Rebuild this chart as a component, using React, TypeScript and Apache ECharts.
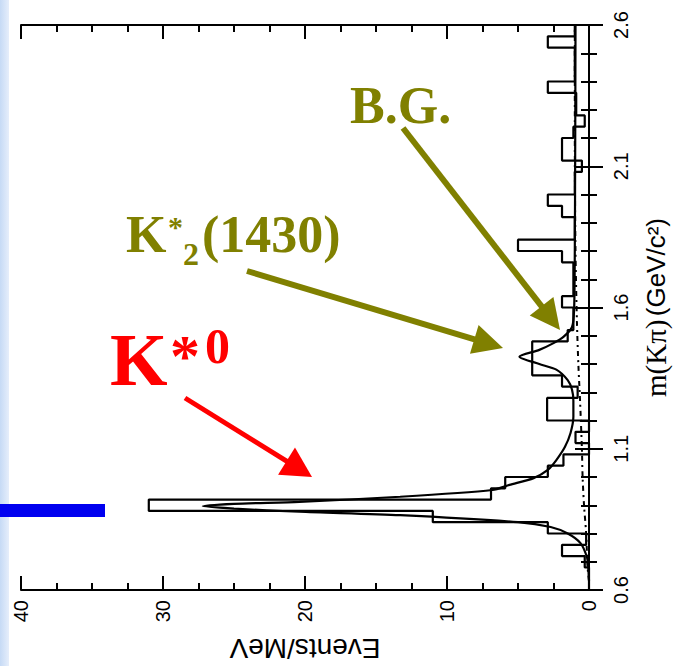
import React, { useEffect, useRef } from "react";
import * as echarts from "echarts";

// m(K pi) histogram, 0.04 GeV bins starting at 0.6 GeV
const MASS_MIN = 0.6;
const BIN_WIDTH = 0.04;
const binValues = [
  0, 0, 0.3, 1.9, 0.2, 2.9, 11.0, 31.0, 6.9, 5.9,
  2.9, 1.8, 0, 0.95, 0, 2.95, 2.95, 0.8, 1.9, 4.0,
  4.0, 4.0, 1.5, 1.1, 1.1, 1.9, 1.1, 1.1, 1.1, 1.9,
  5.0, 1.0, 1.0, 1.9, 2.9, 1.0, 1.0, 0.5, 1.9, 1.9,
  1.1, 0.3, 0.9, 0.9, 2.9, 1.0, 1.0, 1.0, 2.9, 1.0,
];

// total fit (solid)
const fitMass = [
  0.633, 0.68, 0.717, 0.766, 0.8, 0.823, 0.84, 0.865, 0.877, 0.888,
  0.897, 0.905, 0.912, 0.93, 0.954, 0.972, 0.996, 1.025, 1.06, 1.106,
  1.156, 1.213, 1.27, 1.31, 1.343, 1.38, 1.4, 1.426, 1.45, 1.474,
  1.496, 1.53, 1.59, 1.8, 2.2, 2.6,
];
const fitValue = [
  0, 0.05, 0.15, 0.6, 1.5, 2.7, 5.0, 13.3, 20.4, 25.0,
  27.2, 25.0, 20.4, 13.3, 6.8, 5.6, 3.9, 2.9, 2.3, 1.7,
  1.3, 1.1, 1.1, 1.2, 1.5, 2.3, 3.5, 4.9, 3.5, 2.5,
  1.8, 1.2, 1.05, 1.0, 0.97, 0.95,
];

// background (dash-dot)
const bgMass = [0.633, 0.68, 0.8, 0.9, 1.0, 1.1, 1.27, 1.4, 1.55, 1.8, 2.2, 2.6];
const bgValue = [0, 0.1, 0.2, 0.35, 0.45, 0.5, 0.63, 0.75, 0.85, 0.95, 1.0, 1.0];

const OLIVE = "#808000";
const RED = "#ff0000";
const SERIF = "'Liberation Serif', 'Times New Roman', serif";
const SANS = "'Liberation Sans', Arial, sans-serif";

const arrow = (x1, y1, x2, y2, color, width, headLen, headHalf) => {
  const dx = x2 - x1;
  const dy = y2 - y1;
  const len = Math.sqrt(dx * dx + dy * dy);
  const ux = dx / len;
  const uy = dy / len;
  const bx = x2 - ux * headLen;
  const by = y2 - uy * headLen;
  return [
    {
      type: "line",
      shape: { x1, y1, x2: bx + ux * 2, y2: by + uy * 2 },
      style: { stroke: color, lineWidth: width },
      z: 100,
    },
    {
      type: "polygon",
      shape: {
        points: [
          [x2, y2],
          [bx - uy * headHalf, by + ux * headHalf],
          [bx + uy * headHalf, by - ux * headHalf],
        ],
      },
      style: { fill: color },
      z: 100,
    },
  ];
};

const label = (text, x, y, size, color) => ({
  type: "text",
  x,
  y,
  z: 100,
  style: {
    text,
    fill: color,
    font: `bold ${size}px ${SERIF}`,
    align: "left",
    verticalAlign: "middle",
  },
});

const App = () => {
  const chartRef = useRef(null);

  useEffect(() => {
    if (!chartRef.current) return;
    const chart = echarts.init(chartRef.current, null, { renderer: "svg" });

    const histData = [];
    binValues.forEach((v, i) => {
      const lo = MASS_MIN + i * BIN_WIDTH;
      histData.push([v, lo], [v, lo + BIN_WIDTH]);
    });
    const fitData = fitMass.map((m, i) => [fitValue[i], m]);
    const bgData = bgMass.map((m, i) => [bgValue[i], m]);

    const axisLine = { show: true, lineStyle: { color: "#000", width: 2 } };
    const tick = { show: true, inside: true, length: 14, lineStyle: { color: "#000", width: 2 } };
    const minorLine = { color: "#000", width: 2 };

    const option = {
      animation: false,
      backgroundColor: "#fff",
      grid: { left: 21, right: 86, top: 25, bottom: 76, outerBoundsMode: "none", containLabel: false },
      xAxis: [
        {
          type: "value",
          inverse: true,
          min: 0,
          max: 40,
          interval: 10,
          position: "bottom",
          axisLine,
          axisTick: tick,
          minorTick: { show: true, splitNumber: 4, length: 7, lineStyle: minorLine },
          splitLine: { show: false },
          axisLabel: {
            rotate: 90,
            margin: 10,
            fontSize: 20,
            fontFamily: SANS,
            color: "#000",
          },
          name: "Events/MeV",
          nameLocation: "middle",
          nameRotate: 180,
          nameGap: 44,
          nameTextStyle: { fontSize: 28, fontFamily: SANS, color: "#000" },
        },
        {
          type: "value",
          inverse: true,
          min: 0,
          max: 40,
          interval: 10,
          position: "top",
          axisLine,
          axisTick: tick,
          minorTick: { show: true, splitNumber: 4, length: 7, lineStyle: minorLine },
          splitLine: { show: false },
          axisLabel: { show: false },
        },
      ],
      yAxis: [
        {
          type: "value",
          min: 0.6,
          max: 2.6,
          interval: 0.5,
          position: "right",
          axisLine,
          axisTick: tick,
          minorTick: { show: true, splitNumber: 5, length: 8, lineStyle: minorLine },
          splitLine: { show: false },
          axisLabel: {
            rotate: 90,
            margin: 22,
            fontSize: 20,
            fontFamily: SANS,
            color: "#000",
            formatter: (v) => v.toFixed(1),
          },
          name: "{s|m(Kπ)} {a|(GeV/c²)}",
          nameLocation: "middle",
          nameRotate: 90,
          nameGap: 52,
          nameTextStyle: {
            color: "#000",
            rich: {
              s: { fontSize: 29, fontFamily: SERIF, color: "#000" },
              a: { fontSize: 26, fontFamily: SANS, color: "#000" },
            },
          },
        },
        {
          type: "value",
          min: 0.6,
          max: 2.6,
          interval: 0.5,
          position: "left",
          axisLine,
          axisTick: tick,
          minorTick: { show: true, splitNumber: 5, length: 8, lineStyle: minorLine },
          splitLine: { show: false },
          axisLabel: { show: false },
        },
      ],
      series: [
        {
          type: "line",
          data: histData,
          showSymbol: false,
          lineStyle: { color: "#000", width: 2.2 },
          z: 3,
        },
        {
          type: "line",
          data: bgData,
          showSymbol: false,
          smooth: 0.3,
          lineStyle: { color: "#000", width: 2, type: [5, 4, 2, 4] },
          z: 4,
        },
        {
          type: "line",
          data: fitData,
          showSymbol: false,
          smooth: 0.25,
          lineStyle: { color: "#000", width: 2.2 },
          z: 5,
        },
      ],
      graphic: [
        {
          type: "rect",
          shape: { x: 0, y: 0, width: 9, height: 666 },
          style: {
            fill: new echarts.graphic.LinearGradient(0, 0, 1, 0, [
              { offset: 0, color: "#c6daf5" },
              { offset: 1, color: "#e6eefb" },
            ]),
          },
          z: 90,
        },
        {
          type: "rect",
          shape: { x: 0, y: 504, width: 105, height: 13 },
          style: { fill: "#0000f0" },
          z: 100,
        },
        label("B.G.", 350, 105, 52, OLIVE),
        label("K", 126, 234, 52, OLIVE),
        label("*", 168, 226, 30, OLIVE),
        label("2", 183, 254, 32, OLIVE),
        label("(1430)", 202, 234, 52, OLIVE),
        label("K", 110, 360, 74, RED),
        label("*", 170, 356, 60, RED),
        label("0", 205, 346, 50, RED),
        ...arrow(403, 128, 560, 330, OLIVE, 6, 30, 15),
        ...arrow(247, 271, 503, 348, OLIVE, 6, 30, 15),
        ...arrow(185, 398, 312, 477, RED, 5, 30, 16),
      ],
    };

    chart.setOption(option);

    return () => {
      chart.dispose();
    };
  }, []);

  return (
    <div
      ref={chartRef}
      style={{ position: "absolute", left: 0, top: 0, width: "675px", height: "666px" }}
    />
  );
};

export default App;
